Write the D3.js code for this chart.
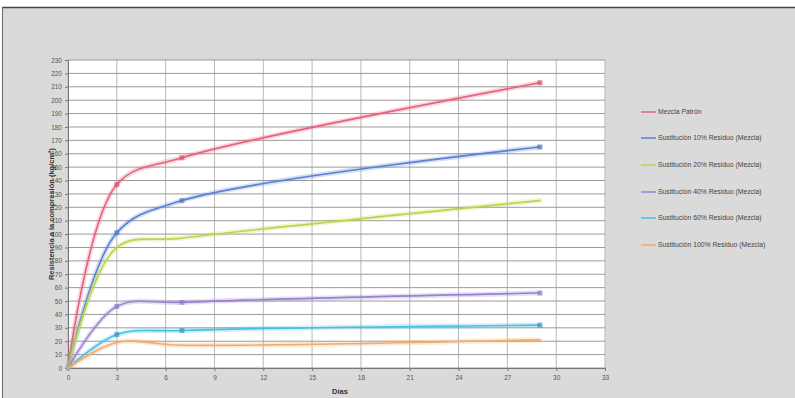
<!DOCTYPE html>
<html>
<head>
<meta charset="utf-8">
<script src="https://cdn.jsdelivr.net/npm/d3@7/dist/d3.min.js"></script>
<style>
  html, body { margin: 0; padding: 0; background: #ffffff; }
  svg { display: block; }
  text { font-family: "Liberation Sans", Arial, sans-serif; }
</style>
</head>
<body>
<svg id="chart" width="795" height="398"></svg>
<script>
// Edad de ensayo (días)
const days = [0, 3, 7, 29];

// Resistencia a la compresión por mezcla (kg/cm²)
const seriesNames = [
  "Mezcla Patrón",
  "Sustitución 10% Residuo (Mezcla)",
  "Sustitución 20% Residuo (Mezcla)",
  "Sustitución 40% Residuo (Mezcla)",
  "Sustitución 60% Residuo (Mezcla)",
  "Sustitución 100% Residuo (Mezcla)"
];
const patron   = [0, 137, 157, 213];
const sust10   = [0, 101, 125, 165];
const sust20   = [0, 90, 97, 125];
const sust40   = [0, 46, 49, 56];
const sust60   = [0, 25, 28, 32];
const sust100  = [0, 19, 17, 21];
const seriesValues = [patron, sust10, sust20, sust40, sust60, sust100];
const seriesColors = ["#e8607e", "#5a7fd6", "#b9d64c", "#9a80d2", "#46c0e6", "#f4aa68"];
const markerColors = ["#d04a68", "#4a6cc0", null, "#8a72c0", "#2f86b8", null];

// Etiquetas de los ejes
const xTicks = d3.range(0, 34, 3);
const yTicks = d3.range(0, 231, 10);

const svg = d3.select("#chart");

// Fondo del objeto gráfico
svg.append("rect").attr("x", 0).attr("y", 0).attr("width", 795).attr("height", 398).attr("fill", "#ffffff");
svg.append("rect").attr("x", 2).attr("y", 7).attr("width", 793).attr("height", 391).attr("fill", "#dadada");
svg.append("line").attr("x1", 2).attr("x2", 795).attr("y1", 7.5).attr("y2", 7.5).attr("stroke", "#444").attr("stroke-width", 1.5);
svg.append("line").attr("x1", 2.5).attr("x2", 2.5).attr("y1", 7).attr("y2", 398).attr("stroke", "#666").attr("stroke-width", 1);

const x = d3.scaleLinear().domain([0, 33]).range([68, 605]);
const y = d3.scaleLinear().domain([0, 230]).range([368, 60]);

// Área de trazado
svg.append("rect")
  .attr("x", x(0)).attr("y", y(230))
  .attr("width", x(33) - x(0)).attr("height", y(0) - y(230))
  .attr("fill", "#ffffff");

// Cuadrícula
svg.append("g").selectAll("line").data(xTicks).join("line")
  .attr("x1", d => x(d)).attr("x2", d => x(d))
  .attr("y1", y(230)).attr("y2", y(0))
  .attr("stroke", "#b8b8b8").attr("stroke-width", 1);
svg.append("g").selectAll("line").data(yTicks).join("line")
  .attr("x1", x(0)).attr("x2", x(33))
  .attr("y1", d => y(d)).attr("y2", d => y(d))
  .attr("stroke", "#9a9a9a").attr("stroke-width", 1);

// Ejes
const xAxis = d3.axisBottom(x).tickValues(xTicks).tickSize(3).tickFormat(d3.format("d"));
const yAxis = d3.axisLeft(y).tickValues(yTicks).tickSize(3).tickFormat(d3.format("d"));
const gx = svg.append("g").attr("transform", `translate(0,${y(0)})`).call(xAxis);
const gy = svg.append("g").attr("transform", `translate(${x(0)},0)`).call(yAxis);
[gx, gy].forEach(g => {
  g.select(".domain").attr("stroke", "#777");
  g.selectAll(".tick line").attr("stroke", "#777");
  g.selectAll(".tick text").attr("fill", "#555").attr("font-size", 6.5);
});
gx.selectAll(".tick text").attr("dy", "0.9em");

// Títulos de los ejes
svg.append("text")
  .attr("transform", `translate(54,${(y(0) + y(230)) / 2}) rotate(-90)`)
  .attr("text-anchor", "middle").attr("font-size", 7.5).attr("font-weight", "bold").attr("fill", "#333")
  .text("Resistencia a la compresión (kg/cm²)");
svg.append("text")
  .attr("x", 340).attr("y", 394)
  .attr("text-anchor", "middle").attr("font-size", 7.5).attr("font-weight", "bold").attr("fill", "#333")
  .text("Días");

// Curvas suavizadas
const line = d3.line()
  .x((d, i) => x(days[i]))
  .y(d => y(d))
  .curve(d3.curveCatmullRom.alpha(0.5));

const gLines = svg.append("g");
seriesValues.forEach((vals, s) => {
  gLines.append("path").datum(vals)
    .attr("d", line).attr("fill", "none")
    .attr("stroke", seriesColors[s]).attr("stroke-width", 5).attr("stroke-opacity", 0.25)
    .attr("stroke-linecap", "round");
  gLines.append("path").datum(vals)
    .attr("d", line).attr("fill", "none")
    .attr("stroke", seriesColors[s]).attr("stroke-width", 1.6)
    .attr("stroke-linecap", "round");
});

// Marcadores de los ensayos
seriesValues.forEach((vals, s) => {
  if (!markerColors[s]) return;
  svg.append("g").selectAll("rect")
    .data(vals.map((v, i) => ({ v, d: days[i] })).filter(p => p.d > 0))
    .join("rect")
    .attr("x", p => x(p.d) - 2.5).attr("y", p => y(p.v) - 2.5)
    .attr("width", 5).attr("height", 5)
    .attr("fill", markerColors[s]).attr("fill-opacity", 0.6);
});

// Leyenda
const legendY = [112, 138, 165, 192, 218, 245];
const legend = svg.append("g");
seriesNames.forEach((name, i) => {
  legend.append("line")
    .attr("x1", 641).attr("x2", 656)
    .attr("y1", legendY[i]).attr("y2", legendY[i])
    .attr("stroke", seriesColors[i]).attr("stroke-width", 1.5);
  legend.append("text")
    .attr("x", 658).attr("y", legendY[i]).attr("dy", "0.35em")
    .attr("font-size", 6.8).attr("fill", "#444")
    .text(name);
});
</script>
</body>
</html>
